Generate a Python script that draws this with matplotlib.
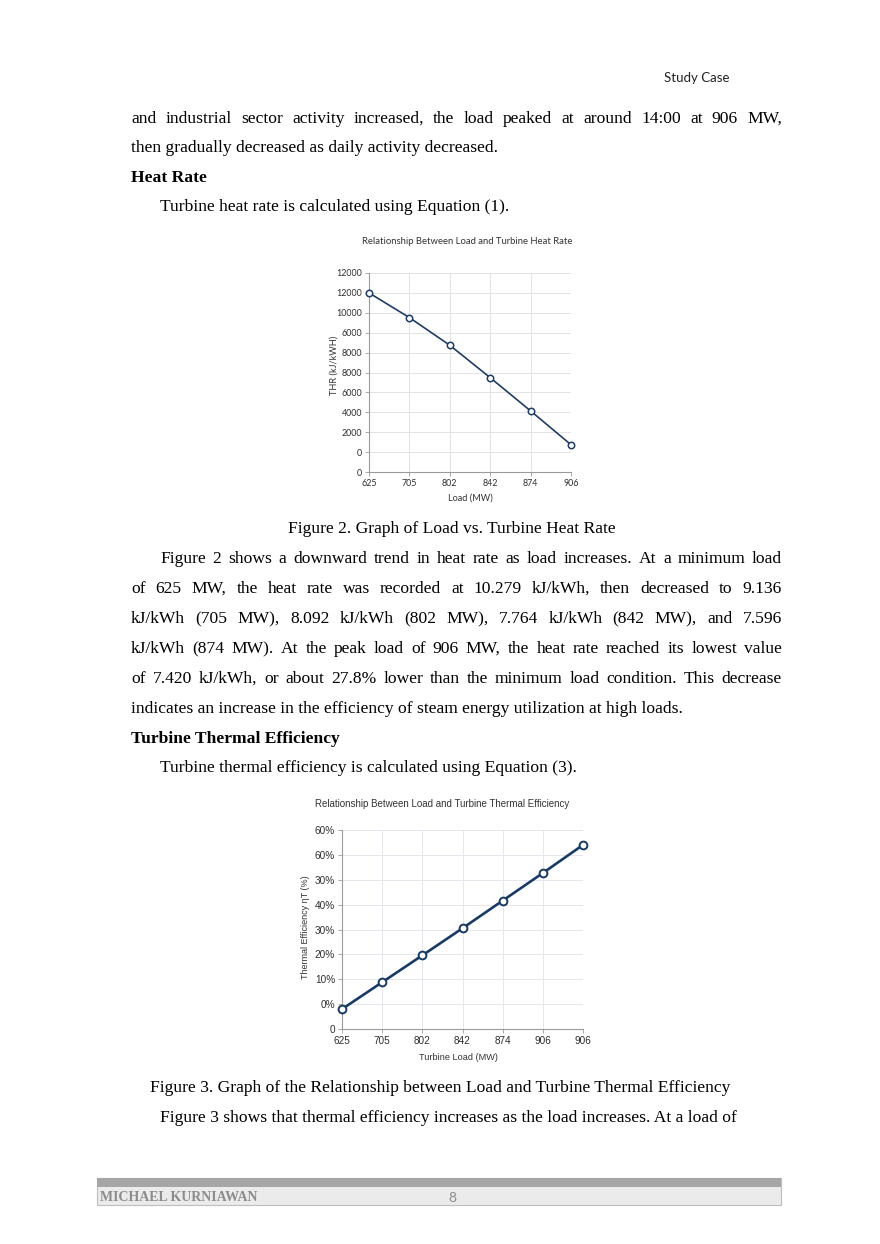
import matplotlib
matplotlib.use("Agg")
import matplotlib.pyplot as plt

# page size in pixels (figure is drawn at dpi 100)
W, H = 880, 1244

# chart data (y values are in grid-step units,
# because the original tick labels are not monotonic)
HEAT_LOADS = ["625", "705", "802", "842", "874", "906"]
HEAT_THR = [9.0, 7.76, 6.37, 4.74, 3.07, 1.37]
HEAT_YTICKS = ["0", "0", "2000", "4000", "6000", "8000", "8000", "6000",
               "10000", "12000", "12000"]

EFF_LOADS = ["625", "705", "802", "842", "874", "906", "906"]
EFF_VALUES = [0.80, 1.88, 2.96, 4.05, 5.16, 6.27, 7.40]
EFF_YTICKS = ["0", "0%", "10%", "20%", "30%", "40%", "30%", "60%", "60%"]

SERIF = "Liberation Serif"
BODY_SIZE = 12.6
LEFT, RIGHT, INDENT = 131, 782, 160


def fx(x):
    return x / W


def fy(y):
    return 1 - y / H


def put(fig, x, y, s, **kw):
    kw.setdefault("family", SERIF)
    kw.setdefault("size", BODY_SIZE)
    kw.setdefault("va", "baseline")
    return fig.text(fx(x), fy(y), s, **kw)


def justified(fig, renderer, s, x0, x1, y, **kw):
    # place each word so that the line fills x0..x1
    words = s.split()
    texts = [put(fig, 0, y, w, **kw) for w in words]
    widths = [t.get_window_extent(renderer).width for t in texts]
    gap = (x1 - x0 - sum(widths)) / (len(words) - 1)
    x = x0
    for t, w in zip(texts, widths):
        t.set_x(fx(x))
        x += w + gap


def style_axes(ax, font, size, nx, ny, yticks, xticks, grid_color):
    ax.set_xlim(0, nx - 1)
    ax.set_ylim(0, ny - 1)
    ax.set_xticks(range(nx))
    ax.set_xticklabels(xticks)
    ax.set_yticks(range(ny))
    ax.set_yticklabels(yticks)
    ax.grid(True, color=grid_color, linewidth=0.7)
    ax.set_axisbelow(True)
    for side in ["top", "right"]:
        ax.spines[side].set_visible(False)
    for side in ["left", "bottom"]:
        ax.spines[side].set_color("#9a9a9a")
        ax.spines[side].set_linewidth(0.8)
    ax.tick_params(length=3, width=0.6, color="#9a9a9a", pad=2,
                   labelsize=size, labelcolor="#2e2e2e")
    for lab in ax.get_xticklabels() + ax.get_yticklabels():
        lab.set_family(font)


def main():
    fig = plt.figure(figsize=(W / 100, H / 100), dpi=100)
    renderer = fig.canvas.get_renderer()

    # header
    put(fig, 729, 82, "Study Case", family="Lato", size=9.5, ha="right",
        color="#222222")

    # text above figure 2
    justified(fig, renderer, "and industrial sector activity increased, the load "
              "peaked at around 14:00 at 906 MW,", LEFT, RIGHT, 123)
    put(fig, LEFT, 152, "then gradually decreased as daily activity decreased.")
    put(fig, LEFT, 182, "Heat Rate", weight="bold")
    put(fig, INDENT, 211, "Turbine heat rate is calculated using Equation (1).")

    # figure 2: heat rate
    ax1 = fig.add_axes([fx(369), fy(472), (571 - 369) / W, (472 - 273) / H])
    style_axes(ax1, "Lato", 6.4, len(HEAT_LOADS), len(HEAT_YTICKS),
               HEAT_YTICKS, HEAT_LOADS, "#e3e3e3")
    ax1.plot(range(len(HEAT_LOADS)), HEAT_THR, color="#1e3d66", linewidth=1.2,
             marker="o", markersize=4.6, markerfacecolor="white",
             markeredgewidth=1.1, clip_on=False, zorder=3)
    put(fig, 467, 242, "Relationship Between Load and Turbine Heat Rate",
        family="Lato", size=6.8, ha="center", va="center", color="#333333")
    put(fig, 470, 498, "Load (MW)", family="Lato", size=6.6, ha="center",
        va="center", color="#333333")
    put(fig, 334, 365, "THR (kJ/kWH)", family="Lato", size=6.6, ha="center",
        va="center", rotation=90, color="#333333")

    put(fig, 452, 533, "Figure 2. Graph of Load vs. Turbine Heat Rate",
        ha="center")

    para = [
        "Figure 2 shows a downward trend in heat rate as load increases. "
        "At a minimum load",
        "of 625 MW, the heat rate was recorded at 10.279 kJ/kWh, then "
        "decreased to 9.136",
        "kJ/kWh (705 MW), 8.092 kJ/kWh (802 MW), 7.764 kJ/kWh (842 MW), "
        "and 7.596",
        "kJ/kWh (874 MW). At the peak load of 906 MW, the heat rate reached "
        "its lowest value",
        "of 7.420 kJ/kWh, or about 27.8% lower than the minimum load "
        "condition. This decrease",
    ]
    y = 563
    for i, line in enumerate(para):
        justified(fig, renderer, line, INDENT if i == 0 else LEFT, RIGHT, y)
        y += 30
    put(fig, LEFT, y, "indicates an increase in the efficiency of steam "
        "energy utilization at high loads.")
    put(fig, LEFT, 743, "Turbine Thermal Efficiency", weight="bold")
    put(fig, INDENT, 772, "Turbine thermal efficiency is calculated using "
        "Equation (3).")

    # figure 3: thermal efficiency
    ax2 = fig.add_axes([fx(342), fy(1029), (583 - 342) / W, (1029 - 830) / H])
    style_axes(ax2, "Liberation Sans", 7.2, len(EFF_LOADS), len(EFF_YTICKS),
               EFF_YTICKS, EFF_LOADS, "#e6e6ec")
    ax2.plot(range(len(EFF_LOADS)), EFF_VALUES, color="#173a66",
             linewidth=1.9, marker="o", markersize=5.6,
             markerfacecolor="white", markeredgewidth=1.4, clip_on=False,
             zorder=3)
    put(fig, 442, 804, "Relationship Between Load and Turbine Thermal Efficiency",
        family="Liberation Sans", size=7.0, ha="center", va="center",
        color="#333333")
    put(fig, 458, 1058, "Turbine Load (MW)", family="Liberation Sans",
        size=6.6, ha="center", va="center", color="#333333")
    put(fig, 305, 927, "Thermal Efficiency ηT (%)", family="Liberation Sans",
        size=6.5, ha="center", va="center", rotation=90, color="#333333")

    put(fig, 150, 1092, "Figure 3. Graph of the Relationship between Load "
        "and Turbine Thermal Efficiency")
    put(fig, INDENT, 1122, "Figure 3 shows that thermal efficiency increases "
        "as the load increases. At a load of")

    # footer bar
    fig.patches.append(plt.Rectangle((fx(97), fy(1205)), (781 - 97) / W,
                                     (1205 - 1178) / H, transform=fig.transFigure,
                                     facecolor="#ebebeb", edgecolor="#bdbdbd",
                                     linewidth=0.8))
    fig.patches.append(plt.Rectangle((fx(97), fy(1187)), (781 - 97) / W,
                                     (1187 - 1178) / H, transform=fig.transFigure,
                                     facecolor="#a6a6a6", edgecolor="none"))
    put(fig, 100, 1201, "MICHAEL KURNIAWAN", weight="bold", size=10,
        color="#8c8c8c")
    put(fig, 452, 1202, "8", family="Lato", size=10, ha="center",
        color="#8c8c8c")

    fig.savefig("out.png", dpi=100, facecolor="white")


if __name__ == "__main__":
    main()
